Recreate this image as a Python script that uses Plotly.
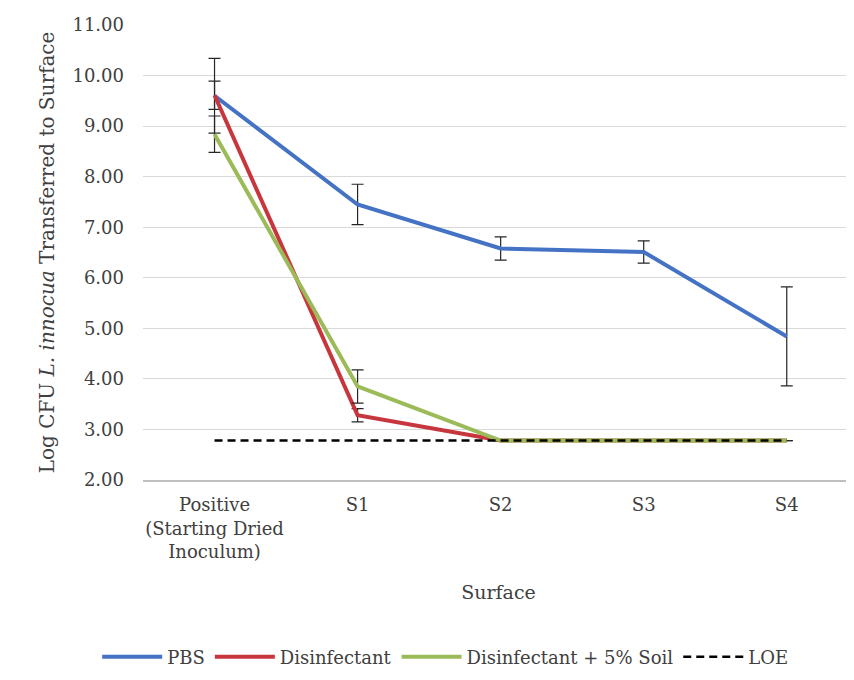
import plotly.graph_objects as go

categories = ["Positive<br>(Starting Dried<br>Inoculum)", "S1", "S2", "S3", "S4"]

pbs = [9.60, 7.45, 6.58, 6.51, 4.84]
pbs_err = [0.74, 0.40, 0.23, 0.22, 0.98]

disinfectant = [9.61, 3.28, 2.78, 2.78, 2.78]
disinfectant_err = [0.28, 0.13, None, None, None]

soil = [8.84, 3.85, 2.78, 2.78, 2.78]
soil_err = [0.36, 0.33, None, None, None]

loe = [2.78, 2.78, 2.78, 2.78, 2.78]

y_ticks = [2, 3, 4, 5, 6, 7, 8, 9, 10, 11]

FONT = "DejaVu Serif"
TXT = "#404040"
ERR = dict(type="data", visible=True, color="#262626", thickness=1.2, width=6)

fig = go.Figure()
fig.add_trace(go.Scatter(x=categories, y=pbs, mode="lines", name="PBS",
                         line=dict(color="#4472C4", width=4),
                         error_y=dict(array=pbs_err, **ERR)))
fig.add_trace(go.Scatter(x=categories, y=disinfectant, mode="lines", name="Disinfectant",
                         line=dict(color="#C8363D", width=4),
                         error_y=dict(array=disinfectant_err, **ERR)))
fig.add_trace(go.Scatter(x=categories, y=soil, mode="lines", name="Disinfectant + 5% Soil",
                         line=dict(color="#9BBB59", width=4),
                         error_y=dict(array=soil_err, **ERR)))
fig.add_trace(go.Scatter(x=categories, y=loe, mode="lines", name="LOE",
                         line=dict(color="black", width=2.5, dash="8px,5px")))

fig.update_layout(
    width=846, height=672,
    margin=dict(l=135, r=0, t=17, b=200),
    paper_bgcolor="white", plot_bgcolor="white",
    font=dict(family=FONT, size=18, color=TXT),
    showlegend=True,
    legend=dict(orientation="h", x=0.425, xanchor="center", y=-0.389, yanchor="middle",
                font=dict(family=FONT, size=18, color=TXT), itemwidth=60,
                tracegroupgap=0),
)
fig.update_xaxes(
    type="category", range=[-0.5, 4.47],
    showgrid=False, showline=True, linecolor="#BFBFBF", linewidth=1.5,
    ticks="", tickfont=dict(family=FONT, size=18, color=TXT),
    ticklabelstandoff=8,
    title=dict(text="Surface", font=dict(family=FONT, size=19, color=TXT), standoff=25),
    automargin=False,
)
fig.update_yaxes(
    range=[2, 11], tickvals=y_ticks, tickformat=".2f",
    showgrid=True, gridcolor="#D9D9D9", gridwidth=1,
    showline=False, zeroline=False, ticks="",
    tickfont=dict(family=FONT, size=18, color=TXT),
    ticklabelstandoff=18,
    title=dict(text="Log CFU <i>L. innocua</i> Transferred to Surface",
               font=dict(family=FONT, size=20, color=TXT), standoff=12),
    automargin=False,
)

fig.write_html("out.html")
